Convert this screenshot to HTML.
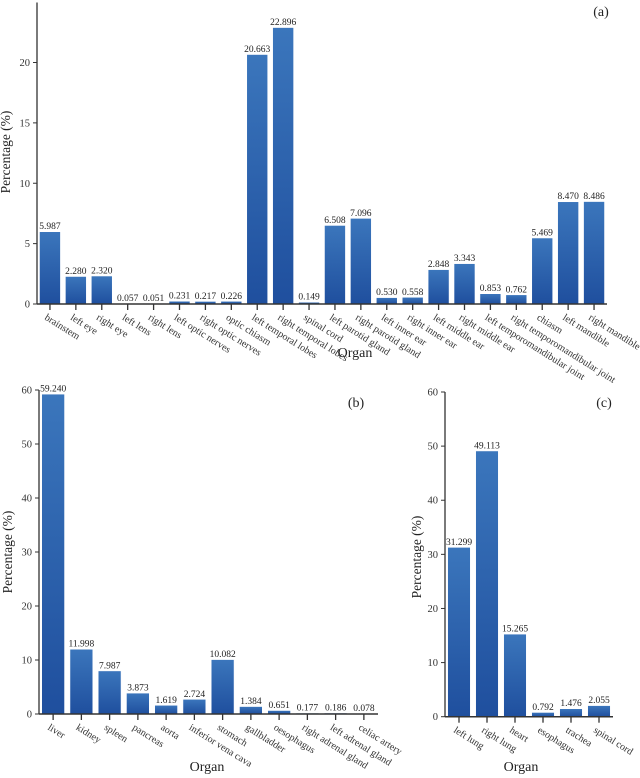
<!DOCTYPE html>
<html><head><meta charset="utf-8">
<style>
html,body{margin:0;padding:0;background:#fff}
svg{display:block}
svg text{font-family:"Liberation Serif","Times New Roman",serif}
</style></head>
<body>
<svg id="chart" width="640" height="778" viewBox="0 0 640 778" xmlns="http://www.w3.org/2000/svg" font-family="Liberation Serif, serif">
<defs>
<linearGradient id="bg" x1="0" y1="0" x2="0" y2="1">
<stop offset="0" stop-color="#3b76bc"/><stop offset="1" stop-color="#1f4f9e"/>
</linearGradient>
</defs>
</svg>
<script>
const catsA=["brainstem","left eye","right eye","left lens","right lens","left optic nerves","right optic nerves","optic chiasm","left temporal lobes","right temporal lobes","spinal cord","left parotid gland","right parotid gland","left inner ear","right inner ear","left middle ear","right middle ear","left temporomandibular joint","right temporomandibular joint","chiasm","left mandible","right mandible"];
const valsA=[5.987,2.280,2.320,0.057,0.051,0.231,0.217,0.226,20.663,22.896,0.149,6.508,7.096,0.530,0.558,2.848,3.343,0.853,0.762,5.469,8.470,8.486];
const ticksA=[0,5,10,15,20];
const catsB=["liver","kidney","spleen","pancreas","aorta","inferior vena cava","stomach","gallbladder","oesophagus","right adrenal gland","left adrenal gland","celiac artery"];
const valsB=[59.240,11.998,7.987,3.873,1.619,2.724,10.082,1.384,0.651,0.177,0.186,0.078];
const ticksB=[0,10,20,30,40,50,60];
const catsC=["left lung","right lung","heart","esophagus","trachea","spinal cord"];
const valsC=[31.299,49.113,15.265,0.792,1.476,2.055];
const ticksC=[0,10,20,30,40,50,60];

const NS="http://www.w3.org/2000/svg";
const svg=document.getElementById('chart');
const FF='"Liberation Serif", serif';
function mk(tag,attrs,parent,text){const e=document.createElementNS(NS,tag);for(const k in attrs)e.setAttribute(k,attrs[k]);if(tag==='text')e.setAttribute('font-family',FF);if(text!==undefined)e.textContent=text;(parent||svg).appendChild(e);return e;}

function panel(id,cats,vals,ticks,x0,x1,y0,yTop,vMax,label,lx,ly,titleX,titleY,organX,organY){
  const g=mk('g',{});
  
  
  const band=(x1-x0)/cats.length;
  const bw=band*0.81;
  const y=v=>y0-(y0-yTop)*v/vMax;
  const xc=i=>x0+band*(i+0.5);
  vals.forEach((v,i)=>{
    const r=mk('rect',{x:xc(i)-bw/2,y:y(v),width:bw,height:Math.max(y0-y(v),0.6),fill:'url(#bg)',stroke:'#fff','stroke-width':0.6},g);
    
    
    const t=mk('text',{x:xc(i),y:y(v)-2.5,'font-size':9.5,'text-anchor':'middle',fill:'#222'},g,v.toFixed(3));
    
    
    mk('line',{x1:xc(i),x2:xc(i),y1:y0,y2:y0+6,stroke:'#333','stroke-width':1.3},g);
    const lb=mk('text',{x:0,y:0,'font-size':10,fill:'#333',transform:`translate(${xc(i)-6},${y0+15}) rotate(32)`},g,cats[i]);
    
    
  });
  mk('line',{x1:x0,x2:x1,y1:y0,y2:y0,stroke:'#333','stroke-width':1.5},g);
  mk('line',{x1:x0,x2:x0,y1:y0,y2:y(ticks[ticks.length-1])-(id==='a'?60:0),stroke:'#333','stroke-width':1.3},g);
  ticks.forEach(t=>{
    mk('line',{x1:x0-4,x2:x0,y1:y(t),y2:y(t),stroke:'#333','stroke-width':1},g);
    const tl=mk('text',{x:x0-7,y:y(t)+3.5,'font-size':10.5,'text-anchor':'end',fill:'#333'},g,String(t));
    
    
  });
  const yt=mk('text',{x:0,y:0,'font-size':13.5,'text-anchor':'middle',fill:'#222',transform:`translate(${titleX},${titleY}) rotate(-90)`},g,'Percentage (%)');
  
  
  const xt=mk('text',{x:organX,y:organY,'font-size':14,'text-anchor':'middle',fill:'#222'},g,'Organ');
  
  
  const pl=mk('text',{x:lx,y:ly,'font-size':14,'text-anchor':'middle',fill:'#222'},g,label);
  
  
}
panel('a',catsA,valsA,ticksA,37,607,304,62.5,20,'(a)',601,16,10,152,355,357);
panel('b',catsB,valsB,ticksB,39,378,714,390,60,'(b)',356,407,12,552,207,771);
panel('c',catsC,valsC,ticksC,445,613,716.7,392,60,'(c)',604,407,421,557,521,771);
</script>
</body></html>
